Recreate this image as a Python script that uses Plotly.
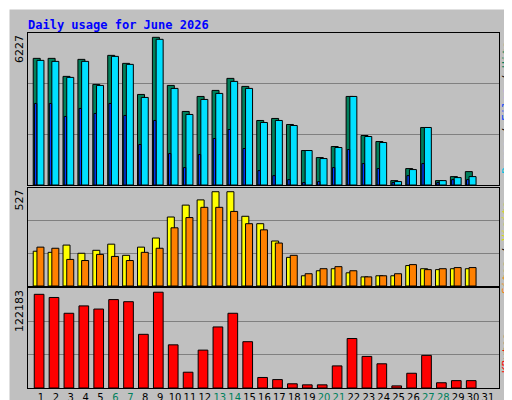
import plotly.graph_objects as go

days = list(range(1, 32))
hits = [5188, 5188, 4450, 5147, 4121, 5311, 4983, 3710, 6050, 4080, 3013, 3628, 3875, 4368, 4039, 2643,
        2726, 2479, 1412, 1124, 1576, 3628, 2028, 1781, 180, 673, 2356, 180, 344, 549, None]
files = [5106, 5064, 4409, 5064, 4080, 5270, 4942, 3587, 5968, 3957, 2890, 3505, 3752, 4244, 3957, 2561,
         2643, 2438, 1412, 1083, 1535, 3628, 1987, 1740, 140, 632, 2356, 180, 303, 344, None]
pages = [3341, 3341, 2808, 3136, 2931, 3341, 2849, 1659, 2643, 1288, 714, 1247, 1905, 2274, 1494, 590,
         384, 220, 100, 140, 714, 1453, 878, 673, 100, 384, 878, 100, 220, 220, None]
visits = [187, 181, 220, 176, 192, 225, 165, 209, 258, 371, 435, 463, 507, 507, 375, 335,
          242, 154, 55, 82, 93, 71, 49, 55, 55, 110, 93, 88, 93, 93, None]
sites = [209, 203, 143, 137, 170, 159, 137, 181, 203, 313, 368, 423, 423, 401, 335, 302,
         231, 165, 66, 93, 104, 82, 49, 55, 66, 115, 88, 93, 99, 99, None]
kbytes = [114463, 110605, 91313, 100316, 96458, 108033, 105461, 65591, 117035, 52730, 19291, 46300,
          74594, 91313, 56588, 12861, 10289, 5144, 3858, 3858, 27008, 60447, 38583, 29580, 2572,
          18005, 39869, 6430, 9003, 9003, None]
weekends = [6, 7, 13, 14, 20, 21, 27, 28]
max_hits, max_visits, max_kb = 6227, 527, 122183

fig = go.Figure()
line = dict(color="black", width=1)

def bars(y, color, offset, width, ax):
    fig.add_trace(go.Bar(x=days, y=y, marker=dict(color=color, line=line),
                         offset=offset, width=width, xaxis="x" + ax, yaxis="y" + ax,
                         showlegend=False, hoverinfo="y"))

bars(hits, "#00805c", -0.52, 0.47, "")
bars(files, "#00e0ff", -0.27, 0.47, "")
bars(pages, "#0040ff", -0.44, 0.16, "")
bars(visits, "#ffff00", -0.52, 0.47, "2")
bars(sites, "#ff8000", -0.27, 0.47, "2")
bars(kbytes, "#ff0000", -0.45, 0.65, "3")

ticktext = [f"<span style='color:#00805c'>{d}</span>" if d in weekends else str(d) for d in days]
xdom = [20 / 512, 491 / 512]
xrng = [0.13, 31.74]

def xaxis(anchor, labels):
    return dict(domain=xdom, range=xrng, anchor=anchor, showgrid=False, zeroline=False,
                tickvals=days if labels else [], ticktext=ticktext if labels else None,
                ticks="", tickangle=0, showline=True, linecolor="black", mirror=True,
                automargin=False,
                tickfont=dict(family="DejaVu Sans", size=10, color="black"))

def yaxis(dom, mx, anchor):
    return dict(domain=dom, range=[0, mx], anchor=anchor, tickvals=[mx / 3, 2 * mx / 3],
                showticklabels=False, gridcolor="#808080", gridwidth=1, zeroline=False,
                showline=True, linecolor="black", mirror=True, ticks="")

fig.update_layout(
    width=512, height=400, margin=dict(l=0, r=0, t=0, b=0, autoexpand=False),
    paper_bgcolor="#c0c0c0", plot_bgcolor="#c0c0c0", barmode="overlay",
    xaxis=xaxis("y", False), xaxis2=xaxis("y2", False), xaxis3=xaxis("y3", True),
    yaxis=yaxis([0.5575, 0.9375], max_hits, "x"),
    yaxis2=yaxis([0.305, 0.55], max_visits, "x2"),
    yaxis3=yaxis([0.05, 0.30], max_kb, "x3"),
    font=dict(family="DejaVu Sans Mono"),
)

fig.add_shape(type="rect", xref="paper", yref="paper", x0=0, y0=0, x1=1, y1=1,
              line=dict(color="white", width=3), layer="below")
fig.add_shape(type="rect", xref="paper", yref="paper", x0=504 / 512, y0=0, x1=1, y1=1,
              fillcolor="#808080", line=dict(width=0), layer="below")
fig.add_shape(type="rect", xref="paper", yref="paper", x0=0, y0=0, x1=1, y1=6 / 400,
              fillcolor="#808080", line=dict(width=0), layer="below")

fig.add_annotation(text="<b>Daily usage for June 2026</b>", xref="paper", yref="paper",
                   x=18 / 512, y=1 - 8 / 400, xanchor="left", yanchor="top", showarrow=False,
                   font=dict(family="DejaVu Sans Mono", size=12, color="#0000ff"))

for label, ytop in [("6227", 25), ("527", 180), ("122183", 280)]:
    fig.add_annotation(text=label, xref="paper", yref="paper", x=11 / 512, y=1 - ytop / 400,
                       textangle=-90, xanchor="center", yanchor="top", showarrow=False,
                       font=dict(family="DejaVu Sans", size=11, color="black"))

side = [
    ("<span style='color:#00c0e0'>Pages</span> / <span style='color:#0040ff'>Files</span> / "
     "<span style='color:#00805c'>Hits</span>", 100),
    ("<span style='color:#ff8000'>Sites</span> / <span style='color:#e0e000'>Visits</span>", 240),
    ("<span style='color:#ff0000'>KBytes</span>", 345),
]
for text, ymid in side:
    fig.add_annotation(text=text, xref="paper", yref="paper", x=498 / 512, y=1 - ymid / 400,
                       textangle=-90, xanchor="center", yanchor="middle", showarrow=False,
                       font=dict(family="DejaVu Sans Mono", size=11, color="black"))

fig.write_html("out.html")
